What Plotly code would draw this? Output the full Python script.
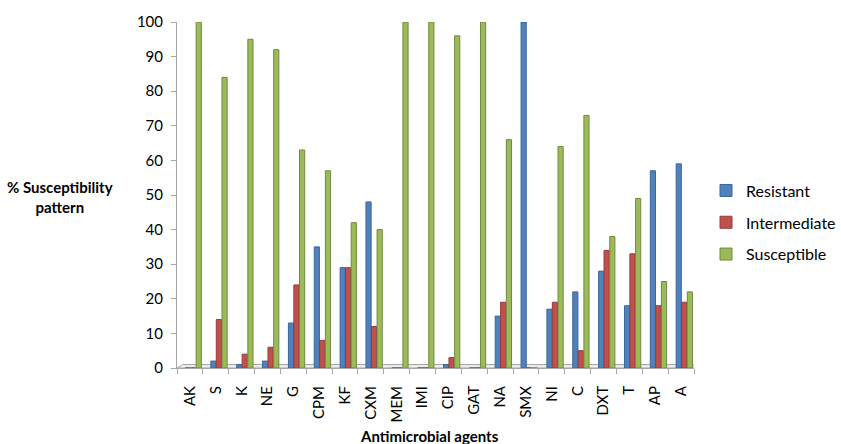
import plotly.graph_objects as go

categories = ["AK", "S", "K", "NE", "G", "CPM", "KF", "CXM", "MEM", "IMI",
              "CIP", "GAT", "NA", "SMX", "NI", "C", "DXT", "T", "AP", "A"]
resistant = [0, 2, 1, 2, 13, 35, 29, 48, 0, 0, 1, 0, 15, 100, 17, 22, 28, 18, 57, 59]
intermediate = [0, 14, 4, 6, 24, 8, 29, 12, 0, 0, 3, 0, 19, 0, 19, 5, 34, 33, 18, 19]
susceptible = [100, 84, 95, 92, 63, 57, 42, 40, 100, 100, 96, 100, 66, 0, 64, 73, 38, 49, 25, 22]
y_ticks = list(range(0, 101, 10))

# plot area in pixels
W, H = 841, 444
PL, PR, PT, PB = 177, 696, 21, 368
pw, ph = PR - PL, PB - PT

def px_x(x):
    return (x - PL) / pw

def px_y(y):
    return 1 - (y - PT) / ph

FONT = "Lato, Carlito, 'Open Sans', sans-serif"

series = [
    ("Resistant", resistant, "#4F81BD", "#3B659A", -0.19),
    ("Intermediate", intermediate, "#C0504D", "#943C3A", 0.02),
    ("Susceptible", susceptible, "#9BBB59", "#71893F", 0.24),
]

fig = go.Figure()
for i, (name, vals, fill, line, off) in enumerate(series):
    fig.add_trace(go.Bar(
        x=categories, y=vals, name=name,
        marker=dict(color=fill, line=dict(color=line, width=1)),
        width=0.2, offset=off, legendgroup=name,
    ))

# 3D-like floor
fig.add_shape(type="path", xref="x", yref="y", layer="below",
              path="M -0.5,0 L 19.5,0 L 19.72,1.0 L -0.28,1.0 Z",
              fillcolor="#EDEDED", line=dict(color="#A6A6A6", width=1))

fig.update_layout(
    width=W, height=H,
    margin=dict(l=PL, r=W - PR, t=PT, b=H - PB),
    paper_bgcolor="white", plot_bgcolor="white",
    barmode="overlay",
    font=dict(family=FONT, size=15, color="#000000"),
    showlegend=True,
    legend=dict(xref="container", x=1.0, y=px_y(173), xanchor="right", yanchor="top",
                font=dict(size=16), itemwidth=30, tracegroupgap=8, borderwidth=0,
                bgcolor="rgba(0,0,0,0)"),
    xaxis=dict(type="category", showline=True, linecolor="#A6A6A6", linewidth=1,
               ticks="outside", ticklen=5, tickcolor="#A6A6A6", tickson="boundaries",
               tickangle=-90, tickfont=dict(size=15), ticklabelstandoff=11,
               showgrid=False, zeroline=False, range=[-0.5, 19.5]),
    yaxis=dict(range=[0, 100], tickvals=y_ticks, showline=True, linecolor="#A6A6A6",
               linewidth=1, ticks="outside", ticklen=5, tickcolor="#A6A6A6",
               tickfont=dict(size=15), ticklabelstandoff=5,
               showgrid=False, zeroline=False),
    annotations=[
        dict(text="<b>% Susceptibility<br>pattern</b>", xref="paper", yref="paper",
             x=px_x(60), y=px_y(197), xanchor="center", yanchor="middle",
             showarrow=False, font=dict(size=15), align="center"),
        dict(text="<b>Antimicrobial agents</b>", xref="paper", yref="paper",
             x=px_x(430), y=px_y(436), xanchor="center", yanchor="middle",
             showarrow=False, font=dict(size=15)),
    ],
)

fig.write_html("out.html", config={"displayModeBar": False},
               post_script="document.body.style.margin='0';document.body.style.padding='0';")
